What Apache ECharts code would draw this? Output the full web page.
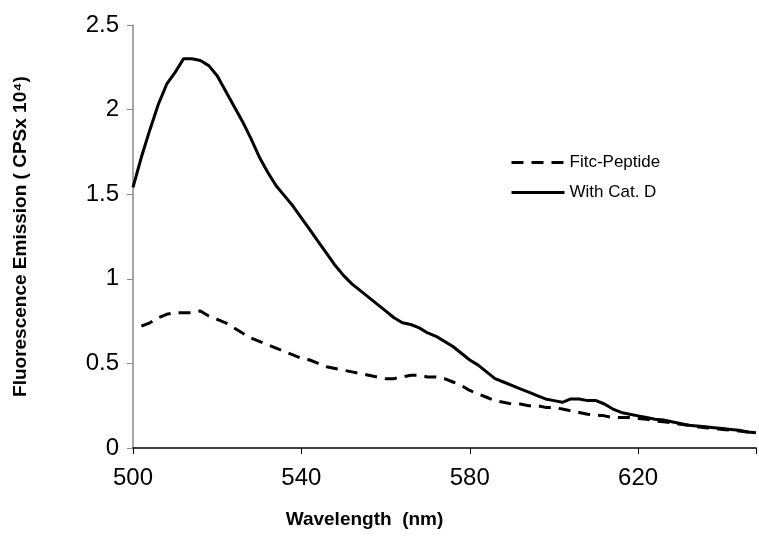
<!DOCTYPE html>
<html>
<head>
<meta charset="utf-8">
<script src="https://cdn.jsdelivr.net/npm/echarts@6/dist/echarts.min.js"></script>
<style>
html,body{margin:0;padding:0;background:#fff;}
#chart{width:759px;height:537px;}
</style>
</head>
<body>
<div id="chart"></div>
<script>
var wavelengths = [];
for (var w = 500; w <= 648; w += 2) wavelengths.push(w);

var fitcPeptide = [null,0.72,0.74,0.77,0.79,0.80,0.80,0.80,0.81,0.78,0.76,0.74,0.71,0.68,0.65,0.63,0.61,0.59,0.57,0.55,
  0.53,0.52,0.50,0.48,0.47,0.46,0.45,0.44,0.43,0.42,0.41,0.41,0.42,0.43,0.43,0.42,0.42,0.41,0.39,0.37,
  0.34,0.32,0.30,0.28,0.27,0.26,0.26,0.25,0.25,0.24,0.24,0.23,0.22,0.21,0.20,0.195,0.19,0.18,0.18,0.18,
  0.175,0.17,0.16,0.155,0.15,0.14,0.135,0.125,0.12,0.115,0.11,0.105,0.10,0.095,0.09];

var withCatD = [1.54,1.72,1.88,2.03,2.15,2.22,2.30,2.30,2.29,2.26,2.20,2.11,2.02,1.93,1.83,1.72,1.63,1.55,1.49,1.43,
  1.36,1.29,1.22,1.15,1.08,1.02,0.97,0.93,0.89,0.85,0.81,0.77,0.74,0.73,0.71,0.68,0.66,0.63,0.60,0.56,
  0.52,0.49,0.45,0.41,0.39,0.37,0.35,0.33,0.31,0.29,0.28,0.27,0.29,0.29,0.28,0.28,0.26,0.23,0.21,0.20,
  0.19,0.18,0.17,0.165,0.155,0.145,0.135,0.13,0.125,0.12,0.115,0.11,0.105,0.095,0.09];

var seriesNames = ['Fitc-Peptide', 'With Cat. D'];
var xTicks = [500, 540, 580, 620];
var yTicks = [0, 0.5, 1, 1.5, 2, 2.5];

function pairs(ys) {
  return wavelengths.map(function (x, i) { return [x, ys[i]]; });
}

var chart = echarts.init(document.getElementById('chart'));
var font = 'Liberation Sans, Arial, sans-serif';
chart.setOption({
  animation: false,
  backgroundColor: '#ffffff',
  grid: { left: 133, right: 0, top: 25, bottom: 89, containLabel: false },
  legend: {
    orient: 'vertical',
    left: 505, top: 149,
    itemWidth: 53, itemHeight: 17, itemGap: 13,
    itemStyle: { opacity: 0 },
    textStyle: { fontFamily: font, fontSize: 17, color: '#000' },
    data: [
      { name: seriesNames[0], lineStyle: { width: 3, color: '#000', type: [12, 8] } },
      { name: seriesNames[1], lineStyle: { width: 3, color: '#000', type: 'solid' } }
    ]
  },
  xAxis: {
    type: 'value', min: 500, max: 648, interval: 40,
    name: 'Wavelength  (nm)', nameLocation: 'middle', nameGap: 62,
    nameTextStyle: { fontFamily: font, fontSize: 19, fontWeight: 'bold', color: '#000', padding: [0, 160, 0, 0] },
    axisLine: { lineStyle: { color: '#000', width: 1.5 } },
    axisTick: { show: true, inside: false, length: 6, lineStyle: { color: '#000' } },
    axisLabel: { fontFamily: font, fontSize: 24, color: '#000', margin: 18,
      formatter: function (v) { return xTicks.indexOf(v) >= 0 ? String(v) : ''; } },
    splitLine: { show: false }
  },
  yAxis: {
    type: 'value', min: 0, max: 2.5, interval: 0.5,
    name: 'Fluorescence Emission ( CPSx 10⁴)', nameLocation: 'middle', nameGap: 103,
    nameRotate: 90,
    nameTextStyle: { fontFamily: font, fontSize: 19, fontWeight: 'bold', color: '#000' },
    axisLine: { show: true, lineStyle: { color: '#888', width: 1.5 } },
    axisTick: { show: true, inside: false, length: 6, lineStyle: { color: '#888' } },
    axisLabel: { fontFamily: font, fontSize: 24, color: '#000', margin: 14,
      formatter: function (v) { return yTicks.indexOf(v) >= 0 ? String(v) : ''; } },
    splitLine: { show: false }
  },
  series: [
    {
      name: seriesNames[0], type: 'line', data: pairs(fitcPeptide),
      showSymbol: false, symbol: 'none', smooth: false, connectNulls: false,
      lineStyle: { color: '#000', width: 3, type: [12, 8] }, itemStyle: { color: '#000' }
    },
    {
      name: seriesNames[1], type: 'line', data: pairs(withCatD),
      showSymbol: false, symbol: 'none', smooth: false,
      lineStyle: { color: '#000', width: 3, type: 'solid' }, itemStyle: { color: '#000' }
    }
  ]
});
</script>
</body>
</html>
